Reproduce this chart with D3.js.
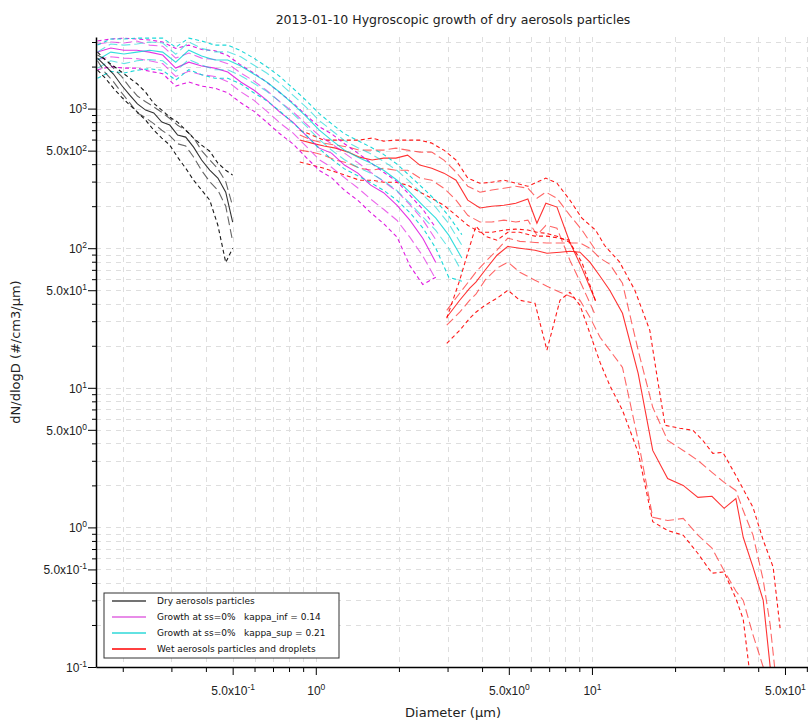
<!DOCTYPE html>
<html lang="en">
<head>
<meta charset="UTF-8">
<title>Hygroscopic growth of dry aerosols particles</title>
<script src="https://d3js.org/d3.v7.min.js"></script>
<style>
  body { margin: 0; background: #fff; }
  svg { font-family: "DejaVu Sans", sans-serif; }
</style>
</head>
<body>
<svg width="808" height="720"></svg>
<script>
// ---- data (diameter in µm, dN/dlogD in #/cm3/µm) ----
const dryDiam = [0.162, 0.173, 0.185, 0.198, 0.212, 0.226, 0.242, 0.259, 0.277, 0.296, 0.316, 0.338, 0.361, 0.386, 0.413, 0.442, 0.472, 0.500];
const dryMid = [2300, 2020, 1770, 1470, 1250, 1080, 976, 930, 800, 762, 646, 625, 530, 428, 362, 318, 252, 154];
const dryHi  = [2420, 2250, 1950, 1700, 1420, 1230, 1120, 1030, 940, 850, 760, 700, 620, 500, 430, 370, 300, 200];
const dryLo  = [2200, 1800, 1560, 1300, 1100, 930, 860, 780, 700, 640, 560, 540, 450, 360, 300, 260, 200, 112];
const dryMax = [2540, 2230, 2020, 1830, 1650, 1500, 1310, 1090, 976, 869, 800, 701, 615, 548, 495, 407, 362, 334];
const dryMin = [1890, 1650, 1400, 1210, 1060, 944, 827, 701, 615, 548, 449, 374, 307, 261, 221, 146, 79, 100];

const infDiam = [0.162, 0.181, 0.202, 0.225, 0.250, 0.279, 0.311, 0.347, 0.386, 0.431, 0.480, 0.535, 0.596, 0.664, 0.741, 0.826, 0.920, 1.03, 1.14, 1.27, 1.42, 1.58, 1.76, 1.97, 2.19, 2.44, 2.72];
const infMid = [2540, 2720, 2620, 2620, 2540, 2420, 1950, 2150, 2020, 1950, 1830, 1550, 1360, 1150, 944, 800, 646, 521, 480, 394, 345, 283, 250, 203, 159, 118, 79];
const infHi  = [2900, 3000, 2950, 3050, 2850, 2800, 2300, 2500, 2300, 2250, 2100, 1800, 1580, 1350, 1120, 950, 780, 640, 560, 480, 410, 350, 300, 255, 205, 160, 115];
const infLo  = [2250, 2350, 2300, 2280, 2200, 2100, 1700, 1850, 1750, 1700, 1560, 1320, 1150, 960, 790, 670, 540, 430, 380, 320, 270, 225, 190, 158, 120, 88, 60];
const infMax = [3050, 3150, 3200, 3150, 3100, 3000, 2700, 2850, 2650, 2600, 2400, 2050, 1800, 1550, 1300, 1100, 900, 740, 660, 560, 480, 410, 350, 300, 240, 190, 140];
const infMin = [1900, 2000, 1950, 1950, 1850, 1780, 1450, 1550, 1450, 1400, 1300, 1100, 960, 800, 660, 560, 450, 360, 320, 260, 220, 180, 150, 120, 75, 55, 62];

const supDiam = [0.162, 0.181, 0.202, 0.225, 0.250, 0.279, 0.311, 0.347, 0.386, 0.431, 0.480, 0.535, 0.596, 0.664, 0.741, 0.826, 0.920, 1.03, 1.14, 1.27, 1.42, 1.58, 1.76, 1.97, 2.19, 2.44, 2.72, 3.03, 3.38];
const supMid = [2230, 2540, 2460, 2540, 2620, 2540, 2150, 2620, 2380, 2230, 2230, 2020, 1770, 1550, 1310, 1080, 884, 701, 595, 504, 449, 407, 362, 307, 252, 203, 164, 124, 85];
const supHi  = [2550, 2900, 2850, 2900, 3000, 2950, 2450, 3000, 2700, 2550, 2550, 2350, 2050, 1800, 1520, 1250, 1030, 820, 700, 590, 525, 475, 420, 360, 300, 242, 196, 150, 105];
const supLo  = [1950, 2200, 2100, 2200, 2250, 2200, 1850, 2250, 2050, 1900, 1900, 1720, 1520, 1330, 1120, 920, 755, 600, 505, 430, 380, 345, 305, 258, 210, 168, 134, 100, 68];
const supMax = [2850, 3150, 3150, 3200, 3200, 3200, 2750, 3200, 3050, 2850, 2850, 2600, 2300, 2000, 1700, 1400, 1150, 920, 780, 660, 590, 530, 470, 400, 330, 270, 220, 170, 125];
const supMin = [1650, 1850, 1800, 1880, 1930, 1880, 1600, 1900, 1750, 1650, 1650, 1500, 1300, 1140, 960, 790, 650, 515, 435, 370, 330, 295, 260, 220, 180, 140, 100, 62, 58];

const wetDiamA = [0.875, 0.967, 1.07, 1.18, 1.31, 1.44, 1.60, 1.76, 1.95, 2.15, 2.38, 2.63, 2.91, 3.22, 3.55, 3.93, 4.34, 4.80, 5.30, 5.86, 6.32, 6.81, 7.47, 8.32, 9.20, 10.3];
const wetMidA = [595, 566, 539, 521, 488, 449, 428, 442, 442, 464, 394, 374, 345, 307, 221, 194, 200, 203, 210, 225, 151, 210, 197, 110, 72, 42];
const wetHiA  = [646, 595, 566, 548, 530, 504, 504, 504, 521, 504, 488, 488, 428, 351, 278, 252, 261, 269, 278, 269, 228, 252, 228, 172, 135, 97];
const wetLoA  = [504, 488, 464, 428, 407, 374, 362, 374, 362, 362, 318, 307, 269, 221, 172, 154, 154, 159, 154, 159, 124, 146, 139, 82, 54, 33];
const wetMinA = [414, 394, 374, 351, 328, 307, 307, 297, 297, 283, 252, 228, 203, 172, 146, 130, 130, 135, 137, 135, 130, 128, 122, 110, 79, 42];

const wetDiamMax = [0.875, 0.967, 1.07, 1.18, 1.31, 1.44, 1.60, 1.76, 1.95, 2.15, 2.38, 2.63, 2.91, 3.22, 3.55, 3.93, 4.34, 4.80, 5.30, 5.86, 6.32, 6.81, 7.47, 8.32, 9.20, 10.3,
                    11.1, 12.6, 14.3, 16.2, 17.3, 18.4, 20.8, 23.2, 25.2, 27.4, 29.8, 33.5, 38.3, 41.7, 45.3, 48.0];
const wetMax = [701, 646, 595, 595, 595, 595, 615, 585, 595, 595, 595, 566, 504, 428, 318, 292, 297, 307, 292, 278, 297, 318, 292, 221, 164, 135,
                105, 79.4, 50.0, 25.8, 11.3, 5.39, 5.13, 4.96, 4.2, 3.39, 3.45, 2.28, 1.39, 0.81, 0.52, 0.19];

const wetDiamB = [2.98, 3.32, 3.61, 3.80, 4.10, 4.53, 4.96, 5.48, 6.22, 6.87, 7.66, 8.32, 9.05, 9.83, 10.7, 11.6, 12.9, 14.7, 16.6, 18.8, 21.4, 24.2, 27.2, 30.1, 33.2, 35.3, 38.3, 41.7, 44.2, 47.2];
const wetMidB = [32.0, 42.4, 51.7, 57.1, 69.5, 89.1, 103, 100, 96.8, 92.1, 93.6, 95.1, 93.6, 79.4, 63.0, 50.0, 34.2, 12.7, 3.56, 2.24, 2.0, 1.64, 1.67, 1.37, 1.61, 0.85, 0.52, 0.30, 0.10, 0.06];
const wetHiB  = [35.9, 47.6, 59.0, 67.3, 79.4, 96.8, 118, 112, 110, 109, 109, 109, 109, 100, 84.8, 76.8, 56.1, 18.6, 7.25, 4.2, 3.56, 3.02, 2.48, 2.10, 1.84, 1.32, 0.88, 0.42, 0.20, 0.058];
const wetLoB  = [28.1, 34.8, 42.4, 46.8, 59.0, 71.9, 79.4, 67.3, 59.0, 53.4, 48.4, 45.3, 42.4, 32.0, 23.0, 18.6, 14.0, 4.2, 1.18, 1.12, 1.16, 0.88, 0.71, 0.49, 0.35, 0.30, 0.17, 0.10, 0.058, 0.030];
const wetMinB = [20.8, 25.8, 31.5, 34.8, 39.0, 43.8, 50.0, 42.4, 40.3, 18.6, 42.4, 48.4, 39.0, 24.6, 15.2, 10.4, 6.9, 3.45, 1.1, 0.95, 0.88, 0.65, 0.47, 0.48, 0.31, 0.22, 0.058, null, null, null];
const wetMaxB = [31.5, 59.0, 103, 144, 122, 114, 130, 130, 122, 122, 118, 114, null, null, null, null, null, null, null, null, null, null, null, null, null, null, null, null, null, null];

const legendLabels = ["Dry aerosols particles", "Growth at ss=0%   kappa_inf = 0.14", "Growth at ss=0%   kappa_sup = 0.21", "Wet aerosols particles and droplets"];
const legendColors = ["#444", "#e066e0", "#2ed8d8", "#ff0000"];

// ---- layout ----
const plot = {left: 96, right: 810, top: 37, bottom: 667};
const svg = d3.select('svg');

const x = d3.scaleLog().domain([0.16, 61.6]).range([plot.left, plot.right]);
const y = d3.scaleLog().domain([0.1, 3258]).range([plot.bottom, plot.top]);

svg.append('defs').append('clipPath').attr('id', 'clip')
  .append('rect')
  .attr('x', plot.left).attr('y', plot.top)
  .attr('width', plot.right - plot.left).attr('height', plot.bottom - plot.top);

// grid
const grid = svg.append('g').attr('stroke', '#dedede').attr('stroke-width', 1).attr('stroke-dasharray', '5,5');
grid.selectAll('.gx').data(x.ticks()).enter().append('line')
  .attr('x1', d => Math.round(x(d)) + 0.5).attr('x2', d => Math.round(x(d)) + 0.5)
  .attr('y1', plot.top).attr('y2', plot.bottom);
grid.selectAll('.gy').data(y.ticks()).enter().append('line')
  .attr('y1', d => Math.round(y(d)) + 0.5).attr('y2', d => Math.round(y(d)) + 0.5)
  .attr('x1', plot.left).attr('x2', plot.right);

// series
const dashes = {solid: null, long: '9,4', short: '4,3'};
const opac = {solid: 0.8, long: 0.6, short: 0.9};
const series = [
  [wetDiamA, wetHiA, '#ff0000', 'long'], [wetDiamA, wetLoA, '#ff0000', 'long'],
  [wetDiamA, wetMinA, '#ff0000', 'short'], [wetDiamMax, wetMax, '#ff0000', 'short'],
  [wetDiamA, wetMidA, '#ff0000', 'solid'],
  [wetDiamB, wetHiB, '#ff0000', 'long'], [wetDiamB, wetLoB, '#ff0000', 'long'],
  [wetDiamB, wetMinB, '#ff0000', 'short'], [wetDiamB, wetMaxB, '#ff0000', 'short'],
  [wetDiamB, wetMidB, '#ff0000', 'solid'],
  [infDiam, infHi, '#dd00dd', 'long'], [infDiam, infLo, '#dd00dd', 'long'],
  [infDiam, infMax, '#dd00dd', 'short'], [infDiam, infMin, '#dd00dd', 'short'],
  [infDiam, infMid, '#dd00dd', 'solid'],
  [supDiam, supHi, '#00d4d4', 'long'], [supDiam, supLo, '#00d4d4', 'long'],
  [supDiam, supMax, '#00d4d4', 'short'], [supDiam, supMin, '#00d4d4', 'short'],
  [supDiam, supMid, '#00d4d4', 'solid'],
  [dryDiam, dryHi, '#000000', 'long'], [dryDiam, dryLo, '#000000', 'long'],
  [dryDiam, dryMax, '#000000', 'short'], [dryDiam, dryMin, '#000000', 'short'],
  [dryDiam, dryMid, '#000000', 'solid']
];

const line = d3.line()
  .defined(d => d[1] != null)
  .x(d => x(d[0]))
  .y(d => y(d[1]));

const lines = svg.append('g').attr('clip-path', 'url(#clip)');
series.forEach(([diam, vals, color, style]) => {
  lines.append('path')
    .datum(diam.map((dd, i) => [dd, vals[i]]))
    .attr('fill', 'none')
    .attr('stroke', color)
    .attr('stroke-width', 1.1)
    .attr('stroke-opacity', opac[style])
    .attr('stroke-dasharray', dashes[style])
    .attr('d', line);
});

// axes
function label(v) {
  const e = Math.floor(Math.log10(v) + 1e-9);
  const m = v / Math.pow(10, e);
  if (Math.abs(m - 1) < 1e-6) return ['10', String(e)];
  if (Math.abs(m - 5) < 1e-6) return ['5.0x10', String(e)];
  return null;
}

function addLabel(sel, base, sup) {
  sel.append('tspan').text(base);
  sel.append('tspan').attr('dy', '-0.55em').attr('font-size', 8.5).text(sup);
}

const gy = svg.append('g').attr('transform', `translate(${plot.left},0)`)
  .call(d3.axisLeft(y).tickValues(y.ticks()).tickSize(4).tickSizeOuter(0).tickFormat(''));
gy.select('.domain').attr('stroke-width', 1.5);
gy.selectAll('.tick').each(function(d) {
  const lab = label(d);
  if (!lab) return;
  const t = d3.select(this);
  t.select('line').attr('x2', -8);
  const txt = t.append('text').attr('x', -9).attr('dy', '0.35em')
    .attr('fill', '#222').attr('font-size', 12).attr('text-anchor', 'end');
  addLabel(txt, lab[0], lab[1]);
});

const gx = svg.append('g').attr('transform', `translate(0,${plot.bottom})`)
  .call(d3.axisBottom(x).tickValues(x.ticks()).tickSize(5).tickSizeOuter(0).tickFormat(''));
gx.select('.domain').attr('stroke-width', 1.5);
gx.selectAll('.tick').each(function(d) {
  const lab = label(d);
  if (!lab) return;
  const t = d3.select(this);
  t.select('line').attr('y2', 8);
  const txt = t.append('text').attr('y', 19).attr('dy', '0.71em')
    .attr('fill', '#222').attr('font-size', 12).attr('text-anchor', 'middle');
  addLabel(txt, lab[0], lab[1]);
});

// titles
svg.append('text').attr('x', 453).attr('y', 24).attr('text-anchor', 'middle')
  .attr('font-size', 12.5).attr('fill', '#222')
  .text('2013-01-10 Hygroscopic growth of dry aerosols particles');
svg.append('text').attr('x', 453).attr('y', 717).attr('text-anchor', 'middle')
  .attr('font-size', 13).attr('fill', '#222').text('Diameter (µm)');
svg.append('text').attr('transform', 'translate(20,352) rotate(-90)').attr('text-anchor', 'middle')
  .attr('font-size', 13).attr('fill', '#222').text('dN/dlogD (#/cm3/µm)');

// legend
const lg = svg.append('g').attr('transform', 'translate(104,593)');
lg.append('rect').attr('width', 235).attr('height', 65)
  .attr('fill', '#fff').attr('stroke', '#333').attr('stroke-width', 1);
legendLabels.forEach((txt, i) => {
  const yy = 8 + i * 16;
  lg.append('line').attr('x1', 8).attr('x2', 42).attr('y1', yy).attr('y2', yy)
    .attr('stroke', legendColors[i]).attr('stroke-width', 1.3);
  lg.append('text').attr('x', 53).attr('y', yy).attr('dy', '0.35em')
    .attr('font-size', 9).attr('fill', '#111')
    .style('white-space', 'pre').text(txt);
});
</script>
</body>
</html>
